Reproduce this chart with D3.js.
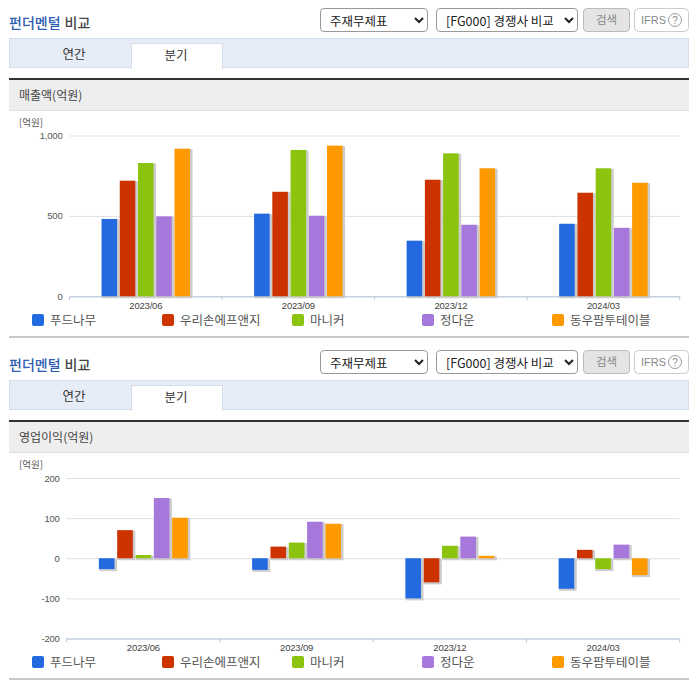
<!DOCTYPE html>
<html>
<head>
<meta charset="utf-8">
<script src="https://cdn.jsdelivr.net/npm/d3@7"></script>
<style>
body { margin:0; background:#fff; overflow:hidden; font-family:"Noto Sans CJK KR","Noto Sans",sans-serif; }
#page { position:relative; width:696px; height:684px; }
svg { position:absolute; left:0; top:0; }
select { position:absolute; height:24px; font-family:"Noto Sans CJK KR",sans-serif; font-size:12.5px; color:#222; background:#fff; border:1px solid #999; border-radius:4px; padding:0 0 0 5px; }
.btn { position:absolute; height:22px; line-height:21px; text-align:center; font-size:11.5px; border-radius:4px; color:#888; }
</style>
</head>
<body>
<div id="page"></div>
<script>
var quarters = ["2023/06","2023/09","2023/12","2024/03"];
var companies = ["푸드나무","우리손에프앤지","마니커","정다운","동우팜투테이블"];
var colors = ["#2369e0","#cc3300","#8cc30f","#a678dc","#ff9900"];
var legendX = [32,162,292,422,552];

var salesValues = [
	[481,719,829,497,918],
	[514,650,910,501,937],
	[346,725,889,445,796],
	[451,644,796,426,706]
];
var salesTicks = [0,500,1000];
var profitValues = [
	[-27,70,8,150,101],
	[-29,29,39,91,86],
	[-100,-60,31,54,6],
	[-76,21,-27,34,-42]
];
var profitTicks = [-200,-100,0,100,200];

var page = d3.select("#page");
var svg = page.append("svg").attr("width",696).attr("height",684);

function fmt(d){
	return d3.format(",")(d).replace("\u2212","-");
}

function drawHeader(top, label){
	var g = svg.append("g").attr("transform","translate(0,"+top+")");
	var title = g.append("text").attr("x",9).attr("y",28).style("font-size","14px").style("font-weight","500");
	title.append("tspan").attr("fill","#2d5cb0").text("펀더멘털");
	title.append("tspan").attr("fill","#444").attr("dx",4).text("비교");

	g.append("rect").attr("x",9.5).attr("y",38.5).attr("width",679).attr("height",29).attr("fill","#e6edf7").attr("stroke","#d5deea");
	g.append("rect").attr("x",131.5).attr("y",43.5).attr("width",91).attr("height",25).attr("fill","#fff").attr("stroke","#d5deea");
	g.append("rect").attr("x",132).attr("y",66).attr("width",90).attr("height",4).attr("fill","#fff");
	g.append("text").attr("x",74).attr("y",59).attr("text-anchor","middle").attr("fill","#333").style("font-size","12.5px").text("연간");
	g.append("text").attr("x",176).attr("y",60).attr("text-anchor","middle").attr("fill","#333").style("font-size","12.5px").text("분기");

	g.append("rect").attr("x",9).attr("y",78).attr("width",680).attr("height",32).attr("fill","#eeeeee");
	g.append("rect").attr("x",9).attr("y",78).attr("width",680).attr("height",2).attr("fill","#333");
	g.append("rect").attr("x",9).attr("y",110).attr("width",680).attr("height",1).attr("fill","#e0e0e0");
	g.append("text").attr("x",19).attr("y",100).attr("fill","#444").style("font-size","12px").text(label);
	g.append("text").attr("x",19).attr("y",126).attr("fill","#555").style("font-size","9.5px").text("[억원]");

	page.append("select").style("left","320px").style("top",(top+8)+"px").style("width","108px")
		.append("option").text("주재무제표");
	page.append("select").style("left","436px").style("top",(top+8)+"px").style("width","142px")
		.append("option").text("[FG000] 경쟁사 비교");
	page.append("div").attr("class","btn").style("left","583px").style("top",(top+8)+"px").style("width","45px")
		.style("background","#e4e4e4").style("border","1px solid #bbb").text("검색");

	g.append("rect").attr("x",634.5).attr("y",8.5).attr("width",54).attr("height",23).attr("rx",4).attr("fill","#fff").attr("stroke","#ccc");
	g.append("text").attr("x",641).attr("y",24).attr("fill","#888").style("font-family","'Liberation Sans',sans-serif").style("font-size","11px").text("IFRS");
	g.append("circle").attr("cx",675).attr("cy",20).attr("r",6.5).attr("fill","none").attr("stroke","#999");
	g.append("text").attr("x",675).attr("y",24).attr("text-anchor","middle").attr("fill","#888").style("font-family","'Liberation Sans',sans-serif").style("font-size","10px").text("?");
}

function drawChart(cfg){
	var x0 = d3.scaleBand().domain(quarters).range([cfg.left,cfg.right]);
	var w = x0.bandwidth();
	var x1 = d3.scaleBand().domain(companies).range([0.21*w,0.79*w]).paddingInner(0.148);
	var y = d3.scaleLinear().domain(cfg.domain).range([cfg.bottom,cfg.top]);
	var g = svg.append("g");

	var yAxis = g.append("g").attr("transform","translate("+cfg.left+",0)")
		.call(d3.axisLeft(y).tickValues(cfg.ticks).tickSize(-(cfg.right-cfg.left)).tickPadding(7).tickFormat(fmt));
	yAxis.select(".domain").remove();
	yAxis.selectAll("line").attr("stroke","#dcdfe3");
	yAxis.selectAll("text").attr("fill","#555").style("font-family","'Liberation Sans',sans-serif").style("font-size","9.5px").style("letter-spacing","-0.2px");

	var xAxis = g.append("g").attr("transform","translate(0,"+cfg.bottom+")")
		.call(d3.axisBottom(x0).tickSize(0).tickPadding(6));
	xAxis.select(".domain").attr("stroke","#b8c8dc");
	xAxis.selectAll("text").attr("fill","#444").style("font-family","'Liberation Sans',sans-serif").style("font-size","9.5px").style("letter-spacing","-0.2px");
	xAxis.selectAll(".edge").data(quarters.map(function(d){ return x0(d); }).concat([cfg.right])).enter()
		.append("line").attr("class","edge").attr("x1",function(d){ return d; }).attr("x2",function(d){ return d; })
		.attr("y1",0).attr("y2",4).attr("stroke","#b8c8dc");

	var groups = g.selectAll(".quarter").data(cfg.values).enter().append("g").attr("class","quarter")
		.attr("transform",function(d,i){ return "translate("+x0(quarters[i])+",0)"; });
	groups.selectAll(".shadow").data(function(d){ return d; }).enter().append("rect").attr("class","shadow")
		.attr("x",function(d,i){ return x1(companies[i])+0.5; })
		.attr("y",function(d){ return Math.min(y(d),y(0))+0.5; })
		.attr("width",x1.bandwidth()+2)
		.attr("height",function(d){ return Math.abs(y(d)-y(0))+1.5; })
		.attr("fill","#cccccc");
	groups.selectAll(".bar").data(function(d){ return d; }).enter().append("rect").attr("class","bar")
		.attr("x",function(d,i){ return x1(companies[i]); })
		.attr("y",function(d){ return Math.min(y(d),y(0)); })
		.attr("width",x1.bandwidth())
		.attr("height",function(d){ return Math.abs(y(d)-y(0)); })
		.attr("fill",function(d,i){ return colors[i]; });

	var legend = g.selectAll(".legend").data(companies).enter().append("g").attr("class","legend")
		.attr("transform",function(d,i){ return "translate("+legendX[i]+","+cfg.legendY+")"; });
	legend.append("rect").attr("width",12).attr("height",12).attr("rx",2).attr("fill",function(d,i){ return colors[i]; });
	legend.append("text").attr("x",18).attr("y",11).attr("fill","#555").style("font-size","12.5px").text(function(d){ return d; });

	g.append("rect").attr("x",9).attr("y",cfg.legendY+22).attr("width",680).attr("height",2).attr("fill","#c8c8c8");
}

drawHeader(0,"매출액(억원)");
drawChart({left:69.5,right:679.7,top:135.5,bottom:296.3,domain:[0,1000],ticks:salesTicks,values:salesValues,legendY:314});
drawHeader(342,"영업이익(억원)");
drawChart({left:66.7,right:679.7,top:478,bottom:638.5,domain:[-200,200],ticks:profitTicks,values:profitValues,legendY:656});
</script>
</body>
</html>
